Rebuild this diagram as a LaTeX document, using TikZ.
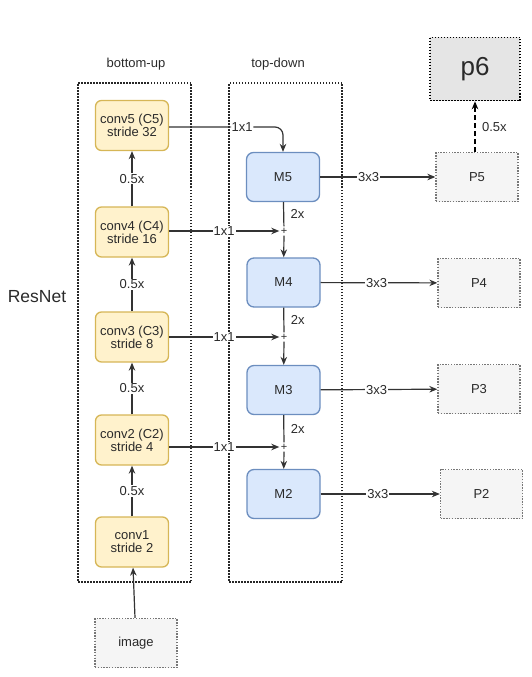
\documentclass[tikz,border=0pt]{standalone}
\usepackage{fontspec}
\setmainfont{Liberation Sans}
\usetikzlibrary{arrows.meta,positioning}
\definecolor{convfill}{HTML}{FFF2CC}
\definecolor{convline}{HTML}{D6B656}
\definecolor{mergefill}{HTML}{DAE8FC}
\definecolor{mergeline}{HTML}{6C8EBF}
\definecolor{pyrfill}{HTML}{F5F5F5}
\definecolor{pyrline}{HTML}{777777}
\definecolor{txtgray}{HTML}{2A2A2A}
\newcommand{\fsz}[1]{\fontsize{#1}{#1}\selectfont}
\begin{document}
\begin{tikzpicture}[x=1pt, y=-1pt, line width=1pt, >={Stealth[length=8pt, width=6.5pt]},
    every node/.style={text=txtgray, font=\fsz{13}},
    conv/.style={draw=convline, fill=convfill, rounded corners=6pt, line width=1.3pt, minimum width=73pt, minimum height=50pt, align=center, inner sep=1pt},
    merge/.style={draw=mergeline, fill=mergefill, rounded corners=7pt, line width=1.3pt, minimum width=73pt, minimum height=49pt},
    pyr/.style={draw=pyrline, fill=pyrfill, dash pattern=on 1.4pt off 1.4pt, line width=1.3pt, minimum width=82pt, minimum height=49pt},
    grp/.style={draw=black!85, dash pattern=on 1.5pt off 1.5pt, line width=1.6pt, minimum width=113pt, minimum height=499pt},
    plus/.style={inner sep=1pt, font=\fsz{11}},
    lbl/.style={fill=white, inner sep=1pt},
    conn/.style={draw=black!80, line width=1.2pt}]
  \useasboundingbox (0,0) rectangle (531,677);
  % dotted groups
  \node[grp] (bu) at (134.5,332.5) {};
  \node[grp] (td) at (285.5,332.5) {};
  \node (bulbl) at (136,64) {bottom-up};
  \node (tdlbl) at (278,64) {top-down};
  \node[font=\fsz{17.5}] (resnet) at (37,297) {ResNet};
  % bottom-up pathway
  \node[conv] (c5) at (132,125.5) {conv5 (C5)\\ stride 32};
  \node[conv] (c4) at (132,232) {conv4 (C4)\\ stride 16};
  \node[conv] (c3) at (132,337) {conv3 (C3)\\ stride 8};
  \node[conv] (c2) at (132,440) {conv2 (C2)\\ stride 4};
  \node[conv] (c1) at (132,542) {conv1\\ stride 2};
  \node[pyr] (img) at (136,643) {image};
  % top-down pathway
  \node[merge] (m5) at (283,177) {M5};
  \node[merge] (m4) at (283.5,282.5) {M4};
  \node[merge] (m3) at (283.5,390) {M3};
  \node[merge] (m2) at (283.5,494) {M2};
  \node[plus] (s4) at (284,231) {+};
  \node[plus] (s3) at (284,337) {+};
  \node[plus] (s2) at (284,447) {+};
  % outputs
  \node[pyr] (p5) at (477,177) {P5};
  \node[pyr] (p4) at (479,283) {P4};
  \node[pyr] (p3) at (479,389) {P3};
  \node[pyr] (p2) at (481.5,494) {P2};
  \node[draw=black, fill=black!10, dash pattern=on 1.5pt off 1.5pt, line width=1.6pt, minimum width=90pt, minimum height=63pt, font=\fsz{26}] (p6) at (475,69) {p6};
  % bottom-up arrows
  \draw[conn, ->] (img) -- (c1);
  \draw[conn, ->] (c1) -- node[lbl] {0.5x} (c2);
  \draw[conn, ->] (c2) -- node[lbl] {0.5x} (c3);
  \draw[conn, ->] (c3) -- node[lbl] {0.5x} (c4);
  \draw[conn, ->] (c4) -- node[lbl] {0.5x} (c5);
  % lateral 1x1
  \draw[conn, ->, rounded corners=8pt] (c5.east |- 0,127) -| node[lbl, pos=0.32] {1x1} (m5.north);
  \draw[conn, ->] (c4.east |- s4) -- node[lbl] {1x1} (s4.west);
  \draw[conn, ->] (c3.east |- s3) -- node[lbl] {1x1} (s3.west);
  \draw[conn, ->] (c2.east |- s2) -- node[lbl] {1x1} (s2.west);
  % 2x upsampling
  \draw[conn] (m5) -- node[right=3pt] {2x} (s4);
  \draw[conn] (m4) -- node[right=3pt] {2x} (s3);
  \draw[conn] (m3) -- node[right=3pt] {2x} (s2);
  \draw[conn, ->] (s4) -- (m4);
  \draw[conn, ->] (s3) -- (m3);
  \draw[conn, ->] (s2) -- (m2);
  % 3x3 outputs
  \draw[conn, ->] (m5) -- node[lbl, pos=0.42] {3x3} (p5);
  \draw[conn, ->] (m4) -- node[lbl, pos=0.48] {3x3} (p4);
  \draw[conn, ->] (m3) -- node[lbl, pos=0.48] {3x3} (p3);
  \draw[conn, ->] (m2) -- node[lbl, pos=0.48] {3x3} (p2);
  \draw[draw=black, line width=1.6pt, dash pattern=on 5pt off 3pt, ->] (p5.north -| p6) -- node[right=3pt] {0.5x} (p6);
\end{tikzpicture}
\end{document}
